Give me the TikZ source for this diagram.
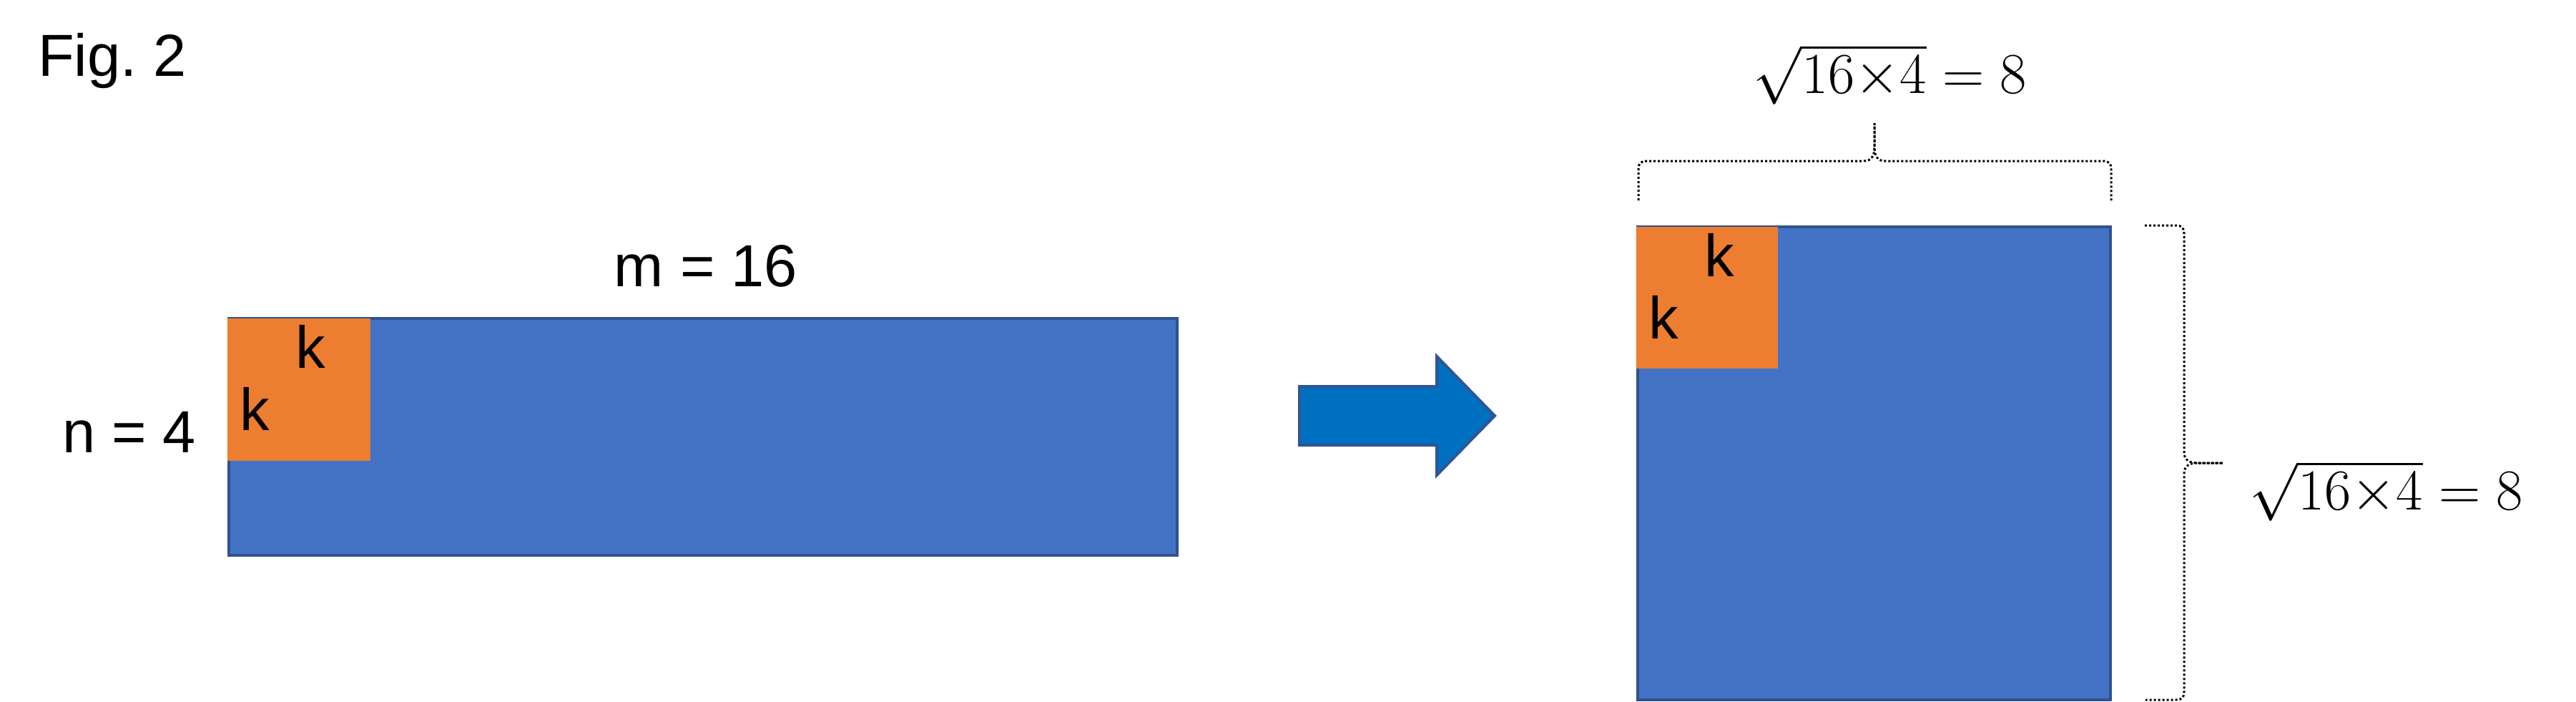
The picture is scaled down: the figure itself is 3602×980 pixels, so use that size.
\RequirePackage{fix-cm}
\documentclass[tikz,border=0pt]{standalone}
\usepackage[no-math]{fontspec}
\setmainfont{Liberation Sans}
\definecolor{bluefill}{HTML}{4472C4}
\definecolor{blueedge}{HTML}{2F528F}
\definecolor{orangefill}{HTML}{ED7D31}
\definecolor{arrowfill}{HTML}{0070C0}
\definecolor{arrowedge}{HTML}{2F5597}
\newcommand{\sqrteq}{$\sqrt{16{\times}4}\;{=}\;8$}
\begin{document}
\begin{tikzpicture}[x=1pt,y=-1pt,
  bluebox/.style={draw=blueedge, fill=bluefill, line width=4pt, inner sep=0pt, outer sep=0pt, rectangle},
  kblock/.style={fill=orangefill, inner sep=0pt, outer sep=0pt, rectangle},
  lbl/.style={inner sep=0pt, outer sep=0pt, font=\fontsize{83}{100}\selectfont},
  eqlbl/.style={inner sep=0pt, outer sep=0pt, font=\fontsize{81}{97}\selectfont},
  bracestyle/.style={line width=3pt, dash pattern=on 3pt off 3pt},
  blockarrow/.style={draw=arrowedge, fill=arrowfill, line width=4pt}]
\useasboundingbox (0,0) rectangle (3602,980);

% left matrix
\node[bluebox, minimum width=1326pt, minimum height=331pt] (long) at (983,610.5) {};
\node[kblock, anchor=north west, minimum width=200pt, minimum height=199pt] (kl) at (318,445) {};
\node[lbl, anchor=base west] (kl1) at ([shift={(95,69.5)}]kl.north west) {k};
\node[lbl, anchor=base west] (kl2) at ([shift={(17,156.5)}]kl.north west) {k};

% labels left
\node[lbl, anchor=base west] (fig) at (53,106) {Fig.\ 2};
\node[lbl, anchor=base] (mlab) at (987,400) {m = 16};
\node[lbl, anchor=base west] (nlab) at (87,632) {n = 4};

% block arrow
\draw[blockarrow] (1817,540) -- (2009,540) -- (2009,498) -- (2090,581) -- (2009,664) -- (2009,622) -- (1817,622) -- cycle;

% right square
\node[bluebox, minimum size=661pt] (sq) at (2620.5,647.5) {};
\node[kblock, anchor=north west, minimum size=198pt] (kr) at (2288,317) {};
\node[lbl, anchor=base west] (kr1) at ([shift={(95,69.5)}]kr.north west) {k};
\node[lbl, anchor=base west] (kr2) at ([shift={(17,156.5)}]kr.north west) {k};

% top brace
\draw[bracestyle] (2291,280) -- (2291,237) .. controls (2291,228) and (2294,225) .. (2303,225)
  -- (2606,225) .. controls (2617,225) and (2621,218) .. (2621,205) -- (2621,172);
\draw[bracestyle] (2621,172) -- (2621,205) .. controls (2621,218) and (2625,225) .. (2636,225)
  -- (2940,225) .. controls (2949,225) and (2952,228) .. (2952,237) -- (2952,280);
\node[eqlbl, anchor=base] (toplab) at (2643,130) {\sqrteq};

% right brace
\draw[bracestyle] (2999,315) -- (3042,315) .. controls (3051,315) and (3054,318) .. (3054,327)
  -- (3054,632) .. controls (3054,643) and (3061,647) .. (3074,647) -- (3108,647);
\draw[bracestyle] (3108,647) -- (3074,647) .. controls (3061,647) and (3054,651) .. (3054,662)
  -- (3054,966) .. controls (3054,975) and (3051,978) .. (3042,978) -- (3000,978);
\node[eqlbl, anchor=base] (sidelab) at (3337,712) {\sqrteq};
\end{tikzpicture}
\end{document}
